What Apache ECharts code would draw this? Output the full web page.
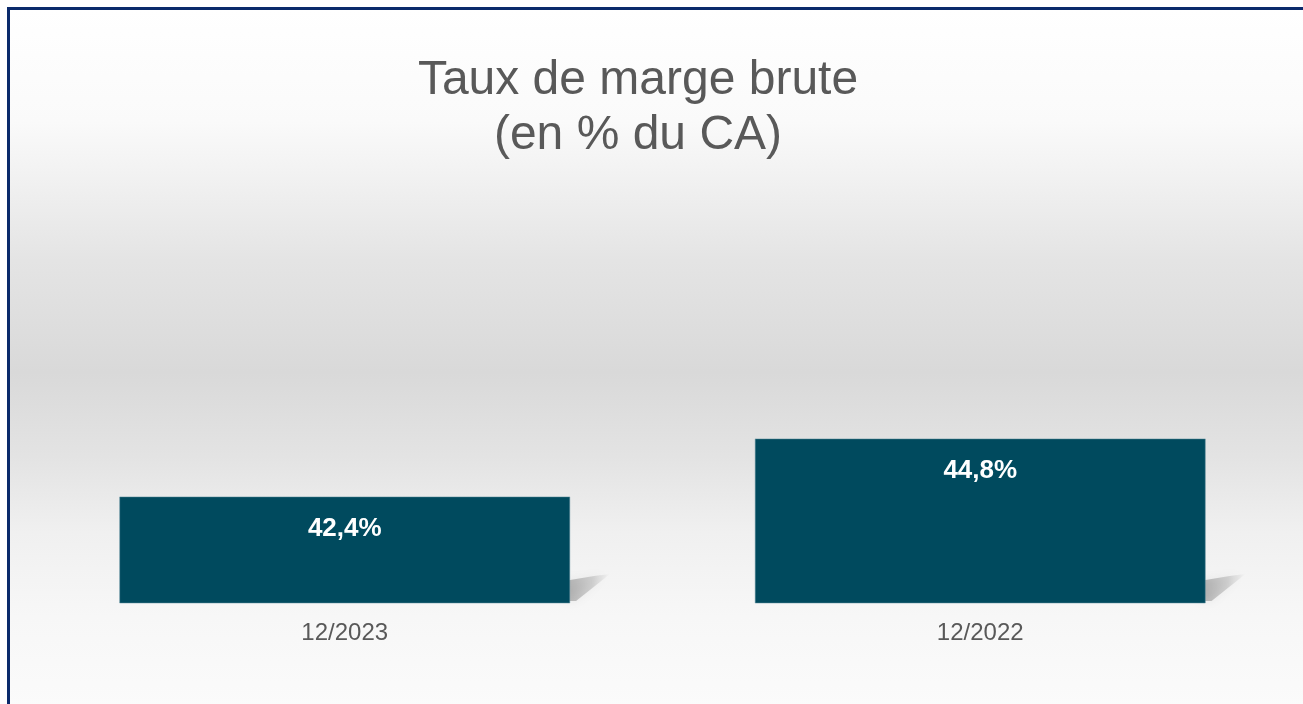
<!DOCTYPE html>
<html>
<head>
<meta charset="utf-8">
<title>Taux de marge brute</title>
<script src="https://cdn.jsdelivr.net/npm/echarts@6/dist/echarts.min.js"></script>
<style>
  html, body { margin: 0; padding: 0; background: #fff; overflow: hidden; }
  #frame {
    position: absolute; left: 7px; top: 7px; width: 1296px; height: 697px;
    border-top: 3px solid #0b2a6b; border-left: 3px solid #0b2a6b;
    background: linear-gradient(to bottom, #ffffff 0%, #fafafa 16%, #e4e4e4 36%, #d9d9d9 52%, #e3e3e3 64%, #f0f0f0 75%, #f7f7f7 87%, #fbfbfb 100%);
  }
  #chart { position: absolute; left: 0; top: 0; width: 1303px; height: 704px; }
</style>
</head>
<body>
<div id="frame"></div>
<div id="chart"></div>
<script>
var categories = ["12/2023", "12/2022"];
var values = [42.4, 44.8];

var fmt = (v) => v.toFixed(1).replace(".", ",") + "%";

var chart = echarts.init(document.getElementById("chart"), null, { renderer: "canvas" });

var option = {
  backgroundColor: "transparent",
  animation: false,
  title: {
    text: "Taux de marge brute\n(en % du CA)",
    left: 633,
    textAlign: "center",
    top: 48,
    textStyle: {
      fontFamily: "Liberation Sans, Arial, sans-serif",
      fontSize: 48,
      fontWeight: "normal",
      color: "#595959",
      lineHeight: 55,
    },
  },
  grid: { left: 27, right: 5, top: 313, bottom: 101 },
  xAxis: {
    type: "category",
    data: categories,
    axisLine: { show: false },
    axisTick: { show: false },
    axisLabel: {
      margin: 18,
      fontFamily: "Liberation Sans, Arial, sans-serif",
      fontSize: 24,
      color: "#595959",
    },
  },
  yAxis: {
    type: "value",
    min: 38,
    max: 50,
    show: false,
    splitLine: { show: false },
  },
  series: [
    {
      // soft floor shadow behind the right edge of each bar
      type: "custom",
      z: 1,
      silent: true,
      data: values.map((v, i) => [i, v]),
      renderItem: function (params, api) {
        var base = api.coord([api.value(0), 38]);
        var size = api.size([1, 0]);
        var xr = base[0] + size[0] * 0.709 / 2;
        var y = base[1];
        return {
          type: "polygon",
          shape: { points: [[xr - 6, y - 2], [xr - 6, y - 22], [xr + 24, y - 27], [xr + 40, y - 29], [xr + 6, y - 2]] },
          style: {
            fill: new echarts.graphic.LinearGradient(0, 0, 1, 0, [
              { offset: 0, color: "rgba(0,0,0,0.26)" },
              { offset: 0.6, color: "rgba(0,0,0,0.14)" },
              { offset: 1, color: "rgba(0,0,0,0)" },
            ]),
            shadowBlur: 10,
            shadowColor: "rgba(0,0,0,0.25)",
          },
        };
      },
    },
    {
      type: "bar",
      z: 2,
      data: values,
      barWidth: "70.9%",
      itemStyle: { color: "#004a5e", borderColor: "#5d8e9c", borderWidth: 0.5 },
      label: {
        show: true,
        position: "insideTop",
        distance: 19,
        formatter: (p) => fmt(p.value),
        fontFamily: "Liberation Sans, Arial, sans-serif",
        fontSize: 26,
        fontWeight: "bold",
        color: "#ffffff",
      },
    },
  ],
};

chart.setOption(option);
</script>
</body>
</html>
